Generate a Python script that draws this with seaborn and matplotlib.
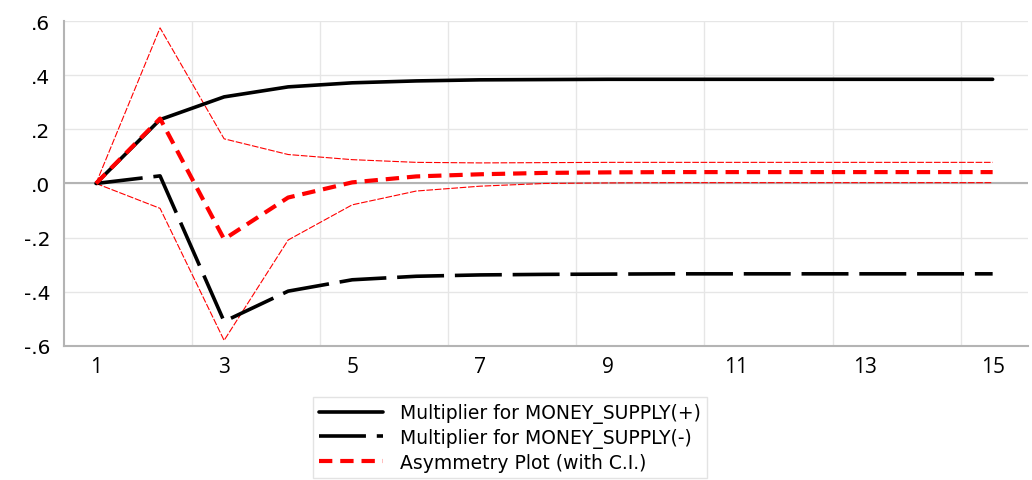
import numpy as np
import pandas as pd
import matplotlib
matplotlib.use("Agg")
import matplotlib.pyplot as plt
from matplotlib.ticker import FuncFormatter, MultipleLocator, FixedLocator
import seaborn as sns

sns.set_style("white")

# horizon (periods)
periods = list(range(1, 16))

# multiplier for positive shocks
mult_pos = [0.0, 0.236, 0.32, 0.357, 0.372, 0.379, 0.383, 0.384, 0.385, 0.385,
            0.385, 0.385, 0.385, 0.385, 0.385]
# multiplier for negative shocks
mult_neg = [0.0, 0.028, -0.51, -0.398, -0.356, -0.343, -0.338, -0.336, -0.335, -0.334,
            -0.334, -0.334, -0.334, -0.334, -0.334]
# asymmetry (pos + neg) and its confidence band
asym = [0.0, 0.24, -0.206, -0.052, 0.004, 0.026, 0.034, 0.039, 0.041, 0.042,
        0.042, 0.042, 0.042, 0.042, 0.042]
ci_upper = [0.0, 0.575, 0.165, 0.107, 0.088, 0.078, 0.076, 0.077, 0.078, 0.078,
            0.078, 0.078, 0.078, 0.078, 0.078]
ci_lower = [0.0, -0.092, -0.58, -0.209, -0.079, -0.028, -0.010, 0.0, 0.002, 0.003,
            0.003, 0.003, 0.003, 0.003, 0.003]

df = pd.DataFrame({"period": periods, "pos": mult_pos, "neg": mult_neg,
                   "asym": asym, "upper": ci_upper, "lower": ci_lower})

fig = plt.figure(figsize=(10.32, 4.81), dpi=100)
ax = fig.add_axes([0.062, 0.279, 0.934, 0.675])

ax.set_xlim(0.5, 15.55)
ax.set_ylim(-0.6, 0.6)
ax.xaxis.set_major_locator(FixedLocator(list(range(1, 16, 2))))
ax.xaxis.set_minor_locator(FixedLocator([2.5, 4.5, 6.5, 8.5, 10.5, 12.5, 14.5]))
ax.yaxis.set_major_locator(MultipleLocator(0.2))
ax.grid(which="minor", axis="x", color="#e6e6e6", lw=1)
ax.grid(which="major", axis="y", color="#e6e6e6", lw=1)
ax.grid(which="major", axis="x", visible=False)
ax.axhline(0, color="#b4b4b4", lw=1.5, zorder=1)

sns.lineplot(data=df, x="period", y="upper", ax=ax, color="red", lw=0.8,
             linestyle=(0, (6, 1.5)), zorder=2)
sns.lineplot(data=df, x="period", y="lower", ax=ax, color="red", lw=0.8,
             linestyle=(0, (6, 1.5)), zorder=2)
sns.lineplot(data=df, x="period", y="pos", ax=ax, color="black", lw=2.6,
             label="Multiplier for MONEY_SUPPLY(+)", zorder=3)
sns.lineplot(data=df, x="period", y="neg", ax=ax, color="black", lw=2.6,
             linestyle=(0, (13, 3)), label="Multiplier for MONEY_SUPPLY(-)", zorder=3)
sns.lineplot(data=df, x="period", y="asym", ax=ax, color="red", lw=3,
             linestyle=(0, (3.2, 1.9)), label="Asymmetry Plot (with C.I.)", zorder=4)

def fmt(v, pos):
    s = f"{v:.1f}"
    return s.replace("0.", ".")

ax.yaxis.set_major_formatter(FuncFormatter(fmt))
ax.set_xlabel("")
ax.set_ylabel("")
ax.tick_params(axis="both", which="both", length=0, labelcolor="black")
ax.tick_params(axis="y", labelsize=14.5, pad=10)
ax.tick_params(axis="x", labelsize=15, pad=7)
for lab in ax.get_xticklabels():
    lab.set_family("Open Sans")

for s in ["top", "right"]:
    ax.spines[s].set_visible(False)
for s in ["left", "bottom"]:
    ax.spines[s].set_color("#b4b4b4")
    ax.spines[s].set_linewidth(1.5)

leg = ax.legend(loc="upper left", bbox_to_anchor=(0.258, -0.157), fontsize=13.5,
                frameon=True, fancybox=False, edgecolor="#dddddd", handlelength=3.4,
                labelspacing=0.25, borderpad=0.35, handletextpad=0.9,
                borderaxespad=0)
for t in leg.get_texts():
    t.set_color("black")

fig.savefig("out.png", dpi=100)
